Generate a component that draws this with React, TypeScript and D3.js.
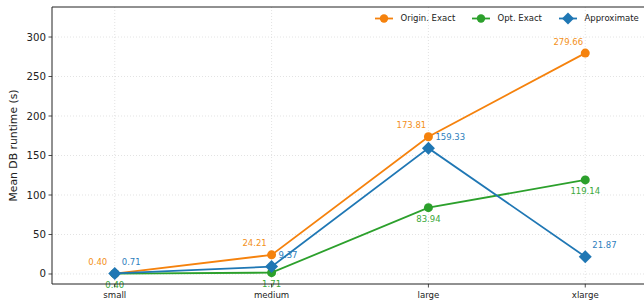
import React from "react";
import * as d3 from "d3";

const categories = ["small", "medium", "large", "xlarge"];
const origExact = [0.4, 24.21, 173.81, 279.66];
const optExact = [0.4, 1.71, 83.94, 119.14];
const approx = [0.71, 9.37, 159.33, 21.87];
const yTicks = [0, 50, 100, 150, 200, 250, 300];

const W = 644, H = 301;
const M = { left: 52, top: 7, right: 648, bottom: 284 };
const FONT = "DejaVu Sans, sans-serif";

export default function App() {
  const x = d3.scaleLinear().domain([-0.4, 3.4]).range([M.left, M.right]);
  const y = d3.scaleLinear().domain([-12.66, 338]).range([M.bottom, M.top]);
  const line = d3.line<number>().x((_, i) => x(i)).y((d) => y(d));

  const series = [
    { name: "Origin. Exact", data: origExact, color: "#f5820d", text: "#f39020", marker: "circle", dx: -17, dy: -11, anchor: "middle" },
    { name: "Opt. Exact", data: optExact, color: "#2ca02c", text: "#3aa83a", marker: "circle", dx: 0, dy: 12, anchor: "middle" },
    { name: "Approximate", data: approx, color: "#1f77b4", text: "#2f80bd", marker: "diamond", dx: 7, dy: -11, anchor: "start" },
  ];

  const marker = (m: string, cx: number, cy: number, c: string, k: string) =>
    m === "circle" ? (
      <circle key={k} cx={cx} cy={cy} r={4.5} fill={c} />
    ) : (
      <path key={k} d={`M${cx},${cy - 6.5}L${cx + 6.5},${cy}L${cx},${cy + 6.5}L${cx - 6.5},${cy}Z`} fill={c} />
    );

  const legendX = [375, 472, 559];

  return (
    <svg width={W} height={H} style={{ position: "absolute", left: 0, top: 0, background: "#fff" }} fontFamily={FONT}>
      <defs>
        <clipPath id="clip">
          <rect x={M.left} y={M.top} width={M.right - M.left} height={M.bottom - M.top} />
        </clipPath>
      </defs>
      {yTicks.map((t) => (
        <line key={"gy" + t} x1={M.left} x2={W} y1={y(t)} y2={y(t)} stroke="#d0d0d0" strokeWidth={0.6} strokeDasharray="1,2" />
      ))}
      {categories.map((c, i) => (
        <line key={"gx" + c} x1={x(i)} x2={x(i)} y1={M.top} y2={M.bottom} stroke="#d0d0d0" strokeWidth={0.6} strokeDasharray="1,2" />
      ))}
      <g clipPath="url(#clip)">
        {series.map((s) => (
          <path key={s.name} d={line(s.data) || ""} fill="none" stroke={s.color} strokeWidth={1.8} />
        ))}
        {series.map((s) => s.data.map((d, i) => marker(s.marker, x(i), y(d), s.color, s.name + i)))}
      </g>
      {series.map((s) =>
        s.data.map((d, i) => (
          <text key={"a" + s.name + i} x={x(i) + s.dx} y={y(d) + s.dy} fontSize={8.5} fill={s.text} textAnchor={s.anchor} dominantBaseline="middle">
            {d.toFixed(2)}
          </text>
        ))
      )}
      <line x1={M.left} x2={M.left} y1={M.top} y2={M.bottom} stroke="#222" strokeWidth={1} />
      <line x1={M.left} x2={W} y1={M.top} y2={M.top} stroke="#222" strokeWidth={1} />
      <line x1={M.left} x2={W} y1={M.bottom} y2={M.bottom} stroke="#222" strokeWidth={1} />
      {yTicks.map((t) => (
        <g key={"yt" + t}>
          <line x1={M.left - 3.5} x2={M.left} y1={y(t)} y2={y(t)} stroke="#222" strokeWidth={0.8} />
          <text x={M.left - 6} y={y(t)} fontSize={10.2} textAnchor="end" dominantBaseline="central" fill="#222">
            {t}
          </text>
        </g>
      ))}
      {categories.map((c, i) => (
        <g key={"xt" + c}>
          <line x1={x(i)} x2={x(i)} y1={M.bottom} y2={M.bottom + 3.5} stroke="#222" strokeWidth={0.8} />
          <text x={x(i)} y={M.bottom + 11} fontSize={8.6} textAnchor="middle" dominantBaseline="middle" fill="#222">
            {c}
          </text>
        </g>
      ))}
      <text transform={`translate(14,${(M.top + M.bottom) / 2}) rotate(-90)`} fontSize={10.8} textAnchor="middle" dominantBaseline="middle" fill="#222">
        Mean DB runtime (s)
      </text>
      {series.map((s, i) => (
        <g key={"lg" + s.name}>
          <line x1={legendX[i]} x2={legendX[i] + 18} y1={18.5} y2={18.5} stroke={s.color} strokeWidth={1.8} />
          {s.marker === "circle" ? (
            <circle cx={legendX[i] + 9} cy={18.5} r={4.2} fill={s.color} />
          ) : (
            <path d={`M${legendX[i] + 9},${12.5}L${legendX[i] + 15},18.5L${legendX[i] + 9},24.5L${legendX[i] + 3},18.5Z`} fill={s.color} />
          )}
          <text x={legendX[i] + 25.5} y={18.5} fontSize={8.5} dominantBaseline="middle" fill="#222">
            {s.name}
          </text>
        </g>
      ))}
    </svg>
  );
}
